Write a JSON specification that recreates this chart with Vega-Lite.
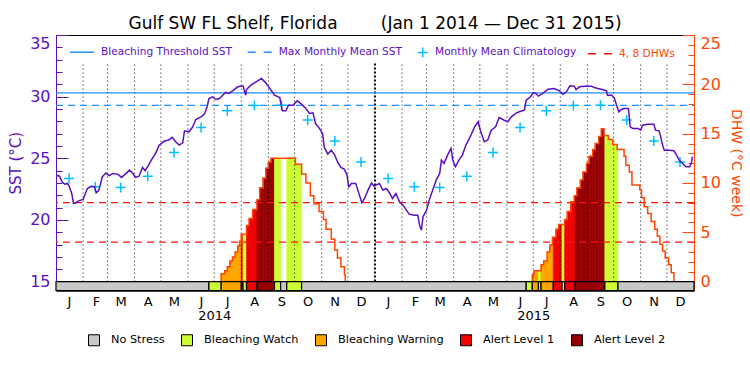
{
  "$schema": "https://vega.github.io/schema/vega-lite/v6.json",
  "width": 638,
  "height": 255.5,
  "autosize": {"type": "none"},
  "padding": {"left": 56, "top": 35, "right": 56, "bottom": 84.5},
  "background": "white",
  "title": {
    "text": "Gulf SW FL Shelf, Florida\u00a0\u00a0\u00a0\u00a0\u00a0\u00a0\u00a0\u00a0(Jan 1 2014 \u2014 Dec 31 2015)",
    "frame": "group", "anchor": "middle", "baseline": "alphabetic", "offset": -11,
    "fontSize": 17, "fontWeight": "normal", "color": "black", "font": "DejaVu Sans"
  },
  "datasets": {
    "sst": [
      {"date":"2014-01-01","sst":23.64},{"date":"2014-01-05","sst":23.55},{"date":"2014-01-08","sst":23.1},{"date":"2014-01-11","sst":22.9},
      {"date":"2014-01-14","sst":22.96},{"date":"2014-01-16","sst":22.75},{"date":"2014-01-19","sst":22.15},{"date":"2014-01-21","sst":21.34},
      {"date":"2014-01-24","sst":21.4},{"date":"2014-01-27","sst":21.55},{"date":"2014-02-01","sst":21.66},{"date":"2014-02-04","sst":22.2},
      {"date":"2014-02-06","sst":22.55},{"date":"2014-02-10","sst":22.74},{"date":"2014-02-14","sst":22.7},{"date":"2014-02-16","sst":22.2},
      {"date":"2014-02-19","sst":22.4},{"date":"2014-02-23","sst":23.5},{"date":"2014-02-27","sst":23.8},{"date":"2014-03-03","sst":23.6},
      {"date":"2014-03-07","sst":23.77},{"date":"2014-03-13","sst":23.7},{"date":"2014-03-17","sst":23.45},{"date":"2014-03-21","sst":23.7},
      {"date":"2014-03-26","sst":24.04},{"date":"2014-03-30","sst":23.77},{"date":"2014-04-02","sst":23.45},{"date":"2014-04-06","sst":23.55},
      {"date":"2014-04-10","sst":24.26},{"date":"2014-04-13","sst":23.99},{"date":"2014-04-17","sst":24.45},{"date":"2014-04-20","sst":24.85},
      {"date":"2014-04-25","sst":25.4},{"date":"2014-04-29","sst":26.07},{"date":"2014-05-05","sst":26.4},{"date":"2014-05-10","sst":26.48},
      {"date":"2014-05-14","sst":26.7},{"date":"2014-05-18","sst":26.34},{"date":"2014-05-22","sst":26.07},{"date":"2014-05-26","sst":26.26},
      {"date":"2014-05-28","sst":27.23},{"date":"2014-06-02","sst":27.15},{"date":"2014-06-06","sst":27.5},{"date":"2014-06-10","sst":28.15},
      {"date":"2014-06-16","sst":28.36},{"date":"2014-06-20","sst":28.6},{"date":"2014-06-23","sst":29.2},{"date":"2014-06-25","sst":29.85},
      {"date":"2014-06-29","sst":29.99},{"date":"2014-07-03","sst":29.77},{"date":"2014-07-07","sst":29.85},{"date":"2014-07-09","sst":29.99},
      {"date":"2014-07-14","sst":30.34},{"date":"2014-07-18","sst":30.26},{"date":"2014-07-22","sst":30.47},{"date":"2014-07-28","sst":30.8},
      {"date":"2014-08-03","sst":30.88},{"date":"2014-08-06","sst":30.12},{"date":"2014-08-07","sst":30.58},{"date":"2014-08-12","sst":30.93},
      {"date":"2014-08-18","sst":31.2},{"date":"2014-08-24","sst":31.47},{"date":"2014-08-28","sst":31.2},{"date":"2014-08-31","sst":30.93},
      {"date":"2014-09-04","sst":30.53},{"date":"2014-09-08","sst":30.12},{"date":"2014-09-14","sst":29.93},{"date":"2014-09-17","sst":28.85},
      {"date":"2014-09-21","sst":28.85},{"date":"2014-09-24","sst":29.31},{"date":"2014-09-29","sst":29.31},{"date":"2014-10-04","sst":29.66},
      {"date":"2014-10-09","sst":29.39},{"date":"2014-10-14","sst":29.04},{"date":"2014-10-18","sst":28.64},{"date":"2014-10-22","sst":28.69},
      {"date":"2014-10-25","sst":27.82},{"date":"2014-10-29","sst":27.47},{"date":"2014-11-02","sst":27.01},{"date":"2014-11-04","sst":25.88},
      {"date":"2014-11-08","sst":25.34},{"date":"2014-11-12","sst":25.66},{"date":"2014-11-16","sst":25.26},{"date":"2014-11-19","sst":24.72},
      {"date":"2014-11-23","sst":24.26},{"date":"2014-11-27","sst":24.1},{"date":"2014-11-30","sst":23.64},{"date":"2014-12-02","sst":22.69},
      {"date":"2014-12-05","sst":22.96},{"date":"2014-12-10","sst":22.96},{"date":"2014-12-13","sst":22.28},{"date":"2014-12-17","sst":21.39},
      {"date":"2014-12-20","sst":21.74},{"date":"2014-12-24","sst":22.42},{"date":"2014-12-28","sst":23.01},{"date":"2014-12-31","sst":22.74},
      {"date":"2015-01-02","sst":22.82},{"date":"2015-01-06","sst":22.96},{"date":"2015-01-10","sst":22.42},{"date":"2015-01-14","sst":22.55},
      {"date":"2015-01-18","sst":22.15},{"date":"2015-01-21","sst":21.74},{"date":"2015-01-25","sst":22.15},{"date":"2015-01-29","sst":21.47},
      {"date":"2015-02-02","sst":21.2},{"date":"2015-02-06","sst":20.8},{"date":"2015-02-09","sst":20.47},{"date":"2015-02-15","sst":20.39},
      {"date":"2015-02-19","sst":20.39},{"date":"2015-02-21","sst":19.58},{"date":"2015-02-23","sst":19.18},{"date":"2015-02-25","sst":20.26},
      {"date":"2015-03-01","sst":20.8},{"date":"2015-03-04","sst":21.61},{"date":"2015-03-08","sst":22.42},{"date":"2015-03-12","sst":23.23},
      {"date":"2015-03-16","sst":23.77},{"date":"2015-03-18","sst":24.85},{"date":"2015-03-21","sst":24.58},{"date":"2015-03-25","sst":25.26},
      {"date":"2015-03-29","sst":25.8},{"date":"2015-03-31","sst":24.85},{"date":"2015-04-03","sst":24.31},{"date":"2015-04-07","sst":24.85},
      {"date":"2015-04-11","sst":25.26},{"date":"2015-04-15","sst":26.07},{"date":"2015-04-19","sst":26.61},{"date":"2015-04-25","sst":27.55},
      {"date":"2015-04-29","sst":27.96},{"date":"2015-05-02","sst":27.15},{"date":"2015-05-06","sst":26.34},{"date":"2015-05-10","sst":26.48},
      {"date":"2015-05-14","sst":27.28},{"date":"2015-05-19","sst":27.55},{"date":"2015-05-23","sst":28.31},{"date":"2015-05-29","sst":28.09},
      {"date":"2015-06-02","sst":27.96},{"date":"2015-06-06","sst":28.36},{"date":"2015-06-11","sst":28.64},{"date":"2015-06-15","sst":28.77},
      {"date":"2015-06-21","sst":28.91},{"date":"2015-06-23","sst":29.72},{"date":"2015-06-28","sst":29.99},{"date":"2015-07-01","sst":30.31},
      {"date":"2015-07-04","sst":30.26},{"date":"2015-07-07","sst":30.04},{"date":"2015-07-12","sst":30.26},{"date":"2015-07-18","sst":30.61},
      {"date":"2015-07-25","sst":30.66},{"date":"2015-07-31","sst":30.47},{"date":"2015-08-04","sst":30.2},{"date":"2015-08-08","sst":30.39},
      {"date":"2015-08-12","sst":30.88},{"date":"2015-08-17","sst":30.85},{"date":"2015-08-19","sst":30.58},{"date":"2015-08-23","sst":30.8},
      {"date":"2015-08-29","sst":30.85},{"date":"2015-09-05","sst":30.85},{"date":"2015-09-09","sst":30.74},{"date":"2015-09-13","sst":30.66},
      {"date":"2015-09-18","sst":30.58},{"date":"2015-09-23","sst":30.47},{"date":"2015-09-24","sst":30.12},{"date":"2015-09-29","sst":30.12},
      {"date":"2015-10-02","sst":29.85},{"date":"2015-10-05","sst":29.18},{"date":"2015-10-07","sst":28.77},{"date":"2015-10-10","sst":28.96},
      {"date":"2015-10-13","sst":29.04},{"date":"2015-10-18","sst":29.04},{"date":"2015-10-20","sst":27.55},{"date":"2015-10-23","sst":27.42},
      {"date":"2015-10-29","sst":27.42},{"date":"2015-11-01","sst":27.28},{"date":"2015-11-03","sst":27.69},{"date":"2015-11-09","sst":27.77},
      {"date":"2015-11-16","sst":27.77},{"date":"2015-11-18","sst":27.28},{"date":"2015-11-22","sst":27.23},{"date":"2015-11-24","sst":26.74},
      {"date":"2015-11-26","sst":26.07},{"date":"2015-11-28","sst":25.66},{"date":"2015-12-04","sst":25.66},{"date":"2015-12-09","sst":25.61},
      {"date":"2015-12-12","sst":25.26},{"date":"2015-12-15","sst":24.85},{"date":"2015-12-19","sst":24.58},{"date":"2015-12-23","sst":24.31},
      {"date":"2015-12-27","sst":24.31},{"date":"2015-12-29","sst":24.64},{"date":"2015-12-30","sst":25.07},{"date":"2015-12-31","sst":25.07}
    ],
    "clim": [
      {"date":"2014-01-16","sst":23.36},{"date":"2014-02-15","sst":22.69},{"date":"2014-03-16","sst":22.64},{"date":"2014-04-16","sst":23.55},
      {"date":"2014-05-16","sst":25.47},{"date":"2014-06-16","sst":27.5},{"date":"2014-07-16","sst":28.85},{"date":"2014-08-16","sst":29.28},
      {"date":"2014-09-16","sst":29.3},{"date":"2014-10-16","sst":28.1},{"date":"2014-11-16","sst":26.4},{"date":"2014-12-16","sst":24.7},
      {"date":"2015-01-16","sst":23.36},{"date":"2015-02-15","sst":22.69},{"date":"2015-03-16","sst":22.64},{"date":"2015-04-16","sst":23.55},
      {"date":"2015-05-16","sst":25.47},{"date":"2015-06-16","sst":27.5},{"date":"2015-07-16","sst":28.85},{"date":"2015-08-16","sst":29.28},
      {"date":"2015-09-16","sst":29.3},{"date":"2015-10-16","sst":28.1},{"date":"2015-11-16","sst":26.4},{"date":"2015-12-16","sst":24.7}
    ],
    "levels": [
      {"series":"Bleaching Threshold SST","value":30.3},
      {"series":"Max Monthly Mean SST","value":29.3}
    ],
    "dhwlevels": [
      {"series":"4, 8 DHWs","value":4},
      {"series":"4, 8 DHWs","value":8}
    ],
    "dhw": [
      {"date":"2014-07-08","dhw":0,"event":"2014"},{"date":"2014-07-09","dhw":0.8,"event":"2014"},{"date":"2014-07-13","dhw":1.1,"event":"2014"},
      {"date":"2014-07-16","dhw":1.5,"event":"2014"},{"date":"2014-07-19","dhw":2.1,"event":"2014"},{"date":"2014-07-22","dhw":2.5,"event":"2014"},
      {"date":"2014-07-25","dhw":3.0,"event":"2014"},{"date":"2014-07-28","dhw":3.6,"event":"2014"},{"date":"2014-07-30","dhw":4.1,"event":"2014"},
      {"date":"2014-08-01","dhw":4.8,"event":"2014"},{"date":"2014-08-07","dhw":5.7,"event":"2014"},{"date":"2014-08-10","dhw":6.4,"event":"2014"},
      {"date":"2014-08-14","dhw":7.3,"event":"2014"},{"date":"2014-08-19","dhw":8.3,"event":"2014"},{"date":"2014-08-22","dhw":9.5,"event":"2014"},
      {"date":"2014-08-26","dhw":10.5,"event":"2014"},{"date":"2014-08-29","dhw":11.5,"event":"2014"},{"date":"2014-09-01","dhw":12.1,"event":"2014"},
      {"date":"2014-09-04","dhw":12.5,"event":"2014"},{"date":"2014-10-02","dhw":11.9,"event":"2014"},{"date":"2014-10-09","dhw":10.9,"event":"2014"},
      {"date":"2014-10-14","dhw":10.0,"event":"2014"},{"date":"2014-10-19","dhw":8.7,"event":"2014"},{"date":"2014-10-23","dhw":7.9,"event":"2014"},
      {"date":"2014-10-29","dhw":7.1,"event":"2014"},{"date":"2014-11-03","dhw":6.3,"event":"2014"},{"date":"2014-11-06","dhw":5.3,"event":"2014"},
      {"date":"2014-11-12","dhw":4.3,"event":"2014"},{"date":"2014-11-16","dhw":3.2,"event":"2014"},{"date":"2014-11-19","dhw":2.4,"event":"2014"},
      {"date":"2014-11-23","dhw":1.5,"event":"2014"},{"date":"2014-11-27","dhw":0.7,"event":"2014"},{"date":"2014-11-28","dhw":0,"event":"2014"},
      {"date":"2015-06-29","dhw":0,"event":"2015"},{"date":"2015-06-30","dhw":0.7,"event":"2015"},{"date":"2015-07-02","dhw":1.1,"event":"2015"},
      {"date":"2015-07-10","dhw":1.7,"event":"2015"},{"date":"2015-07-13","dhw":2.1,"event":"2015"},{"date":"2015-07-17","dhw":3.0,"event":"2015"},
      {"date":"2015-07-20","dhw":3.7,"event":"2015"},{"date":"2015-07-23","dhw":4.5,"event":"2015"},{"date":"2015-07-27","dhw":5.3,"event":"2015"},
      {"date":"2015-07-30","dhw":5.8,"event":"2015"},{"date":"2015-08-06","dhw":6.3,"event":"2015"},{"date":"2015-08-09","dhw":7.1,"event":"2015"},
      {"date":"2015-08-13","dhw":8.1,"event":"2015"},{"date":"2015-08-17","dhw":8.7,"event":"2015"},{"date":"2015-08-20","dhw":9.5,"event":"2015"},
      {"date":"2015-08-24","dhw":10.3,"event":"2015"},{"date":"2015-08-27","dhw":11.1,"event":"2015"},{"date":"2015-08-31","dhw":12.0,"event":"2015"},
      {"date":"2015-09-03","dhw":12.7,"event":"2015"},{"date":"2015-09-07","dhw":13.4,"event":"2015"},{"date":"2015-09-10","dhw":14.0,"event":"2015"},
      {"date":"2015-09-14","dhw":14.7,"event":"2015"},{"date":"2015-09-17","dhw":15.5,"event":"2015"},{"date":"2015-09-20","dhw":14.8,"event":"2015"},
      {"date":"2015-09-25","dhw":14.4,"event":"2015"},{"date":"2015-09-30","dhw":13.9,"event":"2015"},{"date":"2015-10-05","dhw":13.4,"event":"2015"},
      {"date":"2015-10-13","dhw":12.7,"event":"2015"},{"date":"2015-10-15","dhw":11.8,"event":"2015"},{"date":"2015-10-19","dhw":11.1,"event":"2015"},
      {"date":"2015-10-22","dhw":9.8,"event":"2015"},{"date":"2015-10-31","dhw":9.3,"event":"2015"},{"date":"2015-11-02","dhw":8.5,"event":"2015"},
      {"date":"2015-11-05","dhw":7.6,"event":"2015"},{"date":"2015-11-09","dhw":6.9,"event":"2015"},{"date":"2015-11-13","dhw":6.1,"event":"2015"},
      {"date":"2015-11-17","dhw":5.3,"event":"2015"},{"date":"2015-11-20","dhw":4.6,"event":"2015"},{"date":"2015-11-23","dhw":3.8,"event":"2015"},
      {"date":"2015-11-26","dhw":3.1,"event":"2015"},{"date":"2015-11-29","dhw":2.4,"event":"2015"},{"date":"2015-12-03","dhw":1.7,"event":"2015"},
      {"date":"2015-12-06","dhw":0.9,"event":"2015"},{"date":"2015-12-09","dhw":0,"event":"2015"}
    ],
    "fills": [
      {"start":"2014-07-09","end":"2014-07-13","top":0.8,"status":"Bleaching Warning"},
      {"start":"2014-07-13","end":"2014-07-16","top":1.1,"status":"Bleaching Warning"},
      {"start":"2014-07-16","end":"2014-07-19","top":1.5,"status":"Bleaching Warning"},
      {"start":"2014-07-19","end":"2014-07-22","top":2.1,"status":"Bleaching Warning"},
      {"start":"2014-07-22","end":"2014-07-25","top":2.5,"status":"Bleaching Warning"},
      {"start":"2014-07-25","end":"2014-07-28","top":3.0,"status":"Bleaching Warning"},
      {"start":"2014-07-28","end":"2014-07-30","top":3.6,"status":"Bleaching Warning"},
      {"start":"2014-07-30","end":"2014-08-01","top":4.1,"status":"Bleaching Warning"},
      {"start":"2014-08-01","end":"2014-08-03","top":4.8,"status":"Alert Level 1"},
      {"start":"2014-08-03","end":"2014-08-07","top":4.8,"status":"Bleaching Watch"},
      {"start":"2014-08-07","end":"2014-08-10","top":5.7,"status":"Alert Level 1"},
      {"start":"2014-08-10","end":"2014-08-14","top":6.4,"status":"Alert Level 1"},
      {"start":"2014-08-14","end":"2014-08-19","top":7.3,"status":"Alert Level 1"},
      {"start":"2014-08-19","end":"2014-08-22","top":8.3,"status":"Alert Level 2"},
      {"start":"2014-08-22","end":"2014-08-26","top":9.5,"status":"Alert Level 2"},
      {"start":"2014-08-26","end":"2014-08-29","top":10.5,"status":"Alert Level 2"},
      {"start":"2014-08-29","end":"2014-09-01","top":11.5,"status":"Alert Level 2"},
      {"start":"2014-09-01","end":"2014-09-04","top":12.1,"status":"Alert Level 2"},
      {"start":"2014-09-04","end":"2014-09-08","top":12.5,"status":"Alert Level 2"},
      {"start":"2014-09-08","end":"2014-09-15","top":12.5,"status":"Bleaching Watch"},
      {"start":"2014-09-22","end":"2014-10-02","top":12.5,"status":"Bleaching Watch"},
      {"start":"2014-10-02","end":"2014-10-09","top":11.9,"status":"Bleaching Watch"},
      {"start":"2015-06-30","end":"2015-07-02","top":0.7,"status":"Bleaching Warning"},
      {"start":"2015-07-02","end":"2015-07-07","top":1.1,"status":"Bleaching Warning"},
      {"start":"2015-07-07","end":"2015-07-10","top":1.1,"status":"Bleaching Watch"},
      {"start":"2015-07-10","end":"2015-07-13","top":1.7,"status":"Bleaching Warning"},
      {"start":"2015-07-13","end":"2015-07-17","top":2.1,"status":"Bleaching Warning"},
      {"start":"2015-07-17","end":"2015-07-20","top":3.0,"status":"Bleaching Warning"},
      {"start":"2015-07-20","end":"2015-07-23","top":3.7,"status":"Bleaching Warning"},
      {"start":"2015-07-23","end":"2015-07-24","top":4.5,"status":"Bleaching Warning"},
      {"start":"2015-07-24","end":"2015-07-27","top":4.5,"status":"Alert Level 1"},
      {"start":"2015-07-27","end":"2015-07-30","top":5.3,"status":"Alert Level 1"},
      {"start":"2015-07-30","end":"2015-08-03","top":5.8,"status":"Alert Level 1"},
      {"start":"2015-08-03","end":"2015-08-06","top":5.8,"status":"Bleaching Watch"},
      {"start":"2015-08-06","end":"2015-08-09","top":6.3,"status":"Alert Level 1"},
      {"start":"2015-08-09","end":"2015-08-13","top":7.1,"status":"Alert Level 1"},
      {"start":"2015-08-13","end":"2015-08-17","top":8.1,"status":"Alert Level 1"},
      {"start":"2015-08-17","end":"2015-08-18","top":8.7,"status":"Alert Level 1"},
      {"start":"2015-08-18","end":"2015-08-20","top":8.7,"status":"Alert Level 2"},
      {"start":"2015-08-20","end":"2015-08-24","top":9.5,"status":"Alert Level 2"},
      {"start":"2015-08-24","end":"2015-08-27","top":10.3,"status":"Alert Level 2"},
      {"start":"2015-08-27","end":"2015-08-31","top":11.1,"status":"Alert Level 2"},
      {"start":"2015-08-31","end":"2015-09-03","top":12.0,"status":"Alert Level 2"},
      {"start":"2015-09-03","end":"2015-09-07","top":12.7,"status":"Alert Level 2"},
      {"start":"2015-09-07","end":"2015-09-10","top":13.4,"status":"Alert Level 2"},
      {"start":"2015-09-10","end":"2015-09-14","top":14.0,"status":"Alert Level 2"},
      {"start":"2015-09-14","end":"2015-09-17","top":14.7,"status":"Alert Level 2"},
      {"start":"2015-09-17","end":"2015-09-20","top":15.5,"status":"Alert Level 2"},
      {"start":"2015-09-20","end":"2015-09-21","top":14.8,"status":"Alert Level 2"},
      {"start":"2015-09-21","end":"2015-09-25","top":14.8,"status":"Bleaching Watch"},
      {"start":"2015-09-25","end":"2015-09-30","top":14.4,"status":"Bleaching Watch"},
      {"start":"2015-09-30","end":"2015-10-05","top":13.9,"status":"Bleaching Watch"},
      {"start":"2015-10-05","end":"2015-10-06","top":13.4,"status":"Bleaching Watch"}
    ],
    "bar": [
      {"start":"2014-01-01","end":"2014-06-25","status":"No Stress"},
      {"start":"2014-06-25","end":"2014-07-09","status":"Bleaching Watch"},
      {"start":"2014-07-09","end":"2014-08-01","status":"Bleaching Warning"},
      {"start":"2014-08-01","end":"2014-08-03","status":"Alert Level 1"},
      {"start":"2014-08-03","end":"2014-08-07","status":"Bleaching Watch"},
      {"start":"2014-08-07","end":"2014-08-19","status":"Alert Level 1"},
      {"start":"2014-08-19","end":"2014-09-08","status":"Alert Level 2"},
      {"start":"2014-09-08","end":"2014-09-15","status":"Bleaching Watch"},
      {"start":"2014-09-15","end":"2014-09-22","status":"No Stress"},
      {"start":"2014-09-22","end":"2014-10-09","status":"Bleaching Watch"},
      {"start":"2014-10-09","end":"2015-06-23","status":"No Stress"},
      {"start":"2015-06-23","end":"2015-06-30","status":"Bleaching Watch"},
      {"start":"2015-06-30","end":"2015-07-07","status":"Bleaching Warning"},
      {"start":"2015-07-07","end":"2015-07-10","status":"Bleaching Watch"},
      {"start":"2015-07-10","end":"2015-07-24","status":"Bleaching Warning"},
      {"start":"2015-07-24","end":"2015-08-03","status":"Alert Level 1"},
      {"start":"2015-08-03","end":"2015-08-06","status":"Bleaching Watch"},
      {"start":"2015-08-06","end":"2015-08-18","status":"Alert Level 1"},
      {"start":"2015-08-18","end":"2015-09-21","status":"Alert Level 2"},
      {"start":"2015-09-21","end":"2015-10-06","status":"Bleaching Watch"},
      {"start":"2015-10-06","end":"2016-01-01","status":"No Stress"}
    ],
    "months": [
      {"date":"2014-02-01"},{"date":"2014-03-01"},{"date":"2014-04-01"},{"date":"2014-05-01"},{"date":"2014-06-01"},{"date":"2014-07-01"},
      {"date":"2014-08-01"},{"date":"2014-09-01"},{"date":"2014-10-01"},{"date":"2014-11-01"},{"date":"2014-12-01"},{"date":"2015-01-01"},
      {"date":"2015-02-01"},{"date":"2015-03-01"},{"date":"2015-04-01"},{"date":"2015-05-01"},{"date":"2015-06-01"},{"date":"2015-07-01"},
      {"date":"2015-08-01"},{"date":"2015-09-01"},{"date":"2015-10-01"},{"date":"2015-11-01"},{"date":"2015-12-01"}
    ]
  },
  "layer": [
    {
      "layer": [
        {
          "data": {"name": "fills"},
          "mark": {"type": "rect", "strokeWidth": 0.7},
          "encoding": {
            "x": {"field": "start", "type": "temporal",
              "scale": {"type": "utc", "domain": [{"year":2014,"month":1,"date":1,"utc":true},{"year":2016,"month":1,"date":1,"utc":true}], "nice": false},
              "axis": {"orient": "bottom", "values": [{"year":2014,"month":7,"date":1,"utc":true},{"year":2015,"month":7,"date":1,"utc":true}],
                "format": "%Y", "ticks": false, "domain": false, "grid": false, "labelPadding": 19,
                "labelFontSize": 13, "labelColor": "black", "title": null, "labelFlush": false}},
            "x2": {"field": "end"},
            "y": {"field": "top", "type": "quantitative",
              "scale": {"domain": [-0.9, 25], "nice": false, "zero": false},
              "axis": {"orient": "right", "values": [0, 5, 10, 15, 20, 25],
                "tickSize": -12, "tickColor": "#FF4500", "domainColor": "#FF4500", "labelColor": "#FF4500", "labelFontSize": 16, "labelPadding": 18,
                "title": "DHW (\u00b0C week)", "titleColor": "#FF4500", "titleFontSize": 14, "titleFontWeight": "normal", "titlePadding": 8,
                "grid": false, "labelFlush": true, "labelBound": false}},
            "y2": {"datum": 0},
            "fill": {"field": "status", "type": "nominal",
              "scale": {"domain": ["No Stress", "Bleaching Watch", "Bleaching Warning", "Alert Level 1", "Alert Level 2"],
                        "range": ["#C8C8C8", "#CCFF33", "#FFA500", "#F00000", "#960000"]},
              "legend": {"orient": "none", "legendX": 32, "legendY": 299, "direction": "horizontal", "title": null,
                "symbolType": "square", "symbolSize": 121, "symbolStrokeColor": "black", "symbolStrokeWidth": 1, "symbolOpacity": 1,
                "labelFontSize": 11.3, "labelOffset": 11, "columnPadding": 14, "labelColor": "black", "labelLimit": 300,
                "encode": {"symbols": {"update": {"stroke": {"value": "black"}, "strokeWidth": {"value": 1}}}}}},
            "stroke": {"field": "status", "type": "nominal",
              "scale": {"domain": ["No Stress", "Bleaching Watch", "Bleaching Warning", "Alert Level 1", "Alert Level 2"],
                        "range": ["#C8C8C8", "#CCFF33", "#FFA500", "#F00000", "#960000"]},
              "legend": null}
          }
        },
        {
          "data": {"name": "months"},
          "mark": {"type": "rule", "color": "black"},
          "encoding": {
            "x": {"field": "date", "type": "temporal"},
            "y": {"datum": 0},
            "y2": {"datum": 22.2},
            "strokeWidth": {"condition": {"test": "utcmonth(datum.date) === 0", "value": 2}, "value": 1},
            "strokeDash": {"condition": {"test": "utcmonth(datum.date) === 0", "value": [2, 2]}, "value": [1, 3]}
          }
        },
        {
          "data": {"name": "dhwlevels"},
          "mark": {"type": "rule", "strokeDash": [7, 5], "strokeWidth": 1.3},
          "encoding": {
            "y": {"field": "value", "type": "quantitative"},
            "color": {"field": "series", "type": "nominal",
              "scale": {"domain": ["Monthly Mean Climatology", "4, 8 DHWs"], "range": ["#00BFFF", "#FF1010"]},
              "legend": {"orient": "none", "legendX": 347, "legendY": 4, "direction": "horizontal", "title": null,
                "symbolType": "stroke", "symbolSize": 576, "symbolStrokeWidth": 1.5,
                "labelFontSize": 10.6, "labelOffset": 6, "columnPadding": 8, "labelLimit": 400,
                "encode": {
                  "symbols": {"update": {
                    "shape": {"signal": "datum.value === 'Monthly Mean Climatology' ? 'M0.14,0H0.98M0.56,-0.42V0.42' : 'stroke'"},
                    "strokeDash": {"signal": "datum.value === '4, 8 DHWs' ? [8,8] : [30,0]"},
                    "fill": {"value": "transparent"},
                    "opacity": {"value": 1}}},
                  "labels": {"update": {"fill": {"signal": "datum.value === '4, 8 DHWs' ? '#FF4500' : '#5A10C0'"}}}
                }}}
          }
        },
        {
          "data": {"name": "dhw"},
          "mark": {"type": "line", "interpolate": "step-after", "color": "#FF4500", "strokeWidth": 1.5},
          "encoding": {
            "x": {"field": "date", "type": "temporal"},
            "y": {"field": "dhw", "type": "quantitative"},
            "detail": {"field": "event", "type": "nominal"}
          }
        },
        {
          "data": {"name": "bar"},
          "mark": {"type": "rect", "stroke": "black", "strokeWidth": 1.2},
          "encoding": {
            "x": {"field": "start", "type": "temporal"},
            "x2": {"field": "end"},
            "y": {"datum": -0.9, "type": "quantitative"},
            "y2": {"datum": 0},
            "fill": {"field": "status", "type": "nominal"}
          }
        }
      ]
    },
    {
      "layer": [
        {
          "data": {"name": "levels"},
          "mark": {"type": "rule", "strokeWidth": 1.3},
          "encoding": {
            "x": {"datum": {"year":2014,"month":1,"date":1,"utc":true}, "type": "temporal",
              "axis": {"orient": "bottom", "values": [
                {"year":2014,"month":1,"date":1,"utc":true},{"year":2014,"month":3,"date":1,"utc":true},
                {"year":2014,"month":5,"date":1,"utc":true},{"year":2014,"month":7,"date":1,"utc":true},
                {"year":2014,"month":9,"date":1,"utc":true},{"year":2014,"month":11,"date":1,"utc":true},
                {"year":2015,"month":1,"date":1,"utc":true},{"year":2015,"month":3,"date":1,"utc":true},
                {"year":2015,"month":5,"date":1,"utc":true},{"year":2015,"month":7,"date":1,"utc":true},
                {"year":2015,"month":9,"date":1,"utc":true},{"year":2015,"month":11,"date":1,"utc":true}],
                "format": "%m",
                "labelExpr": "substring(utcFormat(datum.value, '%b'), 0, 1)", "labelOffset": 13, "ticks": false, "grid": false,
                "domain": true, "domainColor": "black", "labelColor": "black", "labelFontSize": 13, "labelPadding": 5,
                "title": null, "labelFlush": false, "labelBound": false}},
            "x2": {"datum": {"year":2016,"month":1,"date":1,"utc":true}},
            "y": {"field": "value", "type": "quantitative",
              "scale": {"domain": [14.28, 35], "nice": false, "zero": false},
              "axis": {"orient": "left", "values": [15, 20, 25, 30, 35],
                "tickSize": -12, "tickColor": "#5A10C0", "domainColor": "#5A10C0", "labelColor": "#5A10C0", "labelFontSize": 16, "labelPadding": 18,
                "title": "SST (\u00b0C)", "titleColor": "#5A10C0", "titleFontSize": 15, "titleFontWeight": "normal", "titlePadding": 6,
                "grid": false, "labelFlush": true, "labelBound": false}},
            "stroke": {"field": "series", "type": "nominal",
              "scale": {"domain": ["Bleaching Threshold SST", "Max Monthly Mean SST"], "range": ["#1E90FF", "#1E90FF"]},
              "legend": {"orient": "none", "legendX": 13, "legendY": 4, "direction": "horizontal", "title": null,
                "symbolType": "stroke", "symbolSize": 576, "symbolStrokeWidth": 1.5,
                "labelFontSize": 10.6, "labelOffset": 6, "columnPadding": 11.7, "labelLimit": 400, "labelColor": "#5A10C0",
                "encode": {
                  "symbols": {"update": {
                    "strokeDash": {"signal": "datum.value === 'Max Monthly Mean SST' ? [8,8] : [30,0]"},
                    "fill": {"value": "transparent"},
                    "opacity": {"value": 1}}}
                }}},
            "strokeDash": {"condition": {"test": "datum.series === 'Max Monthly Mean SST'", "value": [7, 5]}, "value": [1, 0]}
          }
        },
        {
          "data": {"name": "clim"},
          "mark": {"type": "point", "shape": "M-1,0H1M0,-1V1", "size": 100, "strokeWidth": 1.5, "filled": false, "opacity": 1},
          "encoding": {
            "x": {"field": "date", "type": "temporal"},
            "y": {"field": "sst", "type": "quantitative"},
            "color": {"datum": "Monthly Mean Climatology"}
          }
        },
        {
          "data": {"name": "sst"},
          "mark": {"type": "line", "color": "#5A10C0", "strokeWidth": 1.5},
          "encoding": {
            "x": {"field": "date", "type": "temporal"},
            "y": {"field": "sst", "type": "quantitative"}
          }
        }
      ]
    },
    {
      "data": {"name": "levels"},
      "mark": {"type": "rule", "opacity": 0},
      "encoding": {
        "x": {"datum": {"year":2014,"month":1,"date":1,"utc":true}, "type": "temporal",
          "axis": {"orient": "bottom", "values": [
            {"year":2014,"month":2,"date":1,"utc":true},{"year":2014,"month":4,"date":1,"utc":true},
            {"year":2014,"month":6,"date":1,"utc":true},{"year":2014,"month":8,"date":1,"utc":true},
            {"year":2014,"month":10,"date":1,"utc":true},{"year":2014,"month":12,"date":1,"utc":true},
            {"year":2015,"month":2,"date":1,"utc":true},{"year":2015,"month":4,"date":1,"utc":true},
            {"year":2015,"month":6,"date":1,"utc":true},{"year":2015,"month":8,"date":1,"utc":true},
            {"year":2015,"month":10,"date":1,"utc":true},{"year":2015,"month":12,"date":1,"utc":true}],
            "format": "%m",
            "labelExpr": "substring(utcFormat(datum.value, '%b'), 0, 1)", "labelOffset": 13, "ticks": false, "grid": false,
            "domain": false, "labelColor": "black", "labelFontSize": 13, "labelPadding": 5,
            "title": null, "labelFlush": false, "labelBound": false}},
        "y": {"field": "value", "type": "quantitative",
          "scale": {"domain": [14.28, 35], "nice": false, "zero": false},
          "axis": {"orient": "left", "values": [16,17,18,19,21,22,23,24,26,27,28,29,31,32,33,34],
            "labels": false, "domain": false, "tickSize": -6, "tickColor": "#5A10C0", "title": null, "grid": false}}
      }
    },
    {
      "data": {"name": "dhwlevels"},
      "mark": {"type": "rule", "opacity": 0},
      "encoding": {
        "y": {"field": "value", "type": "quantitative",
          "scale": {"domain": [-0.9, 25], "nice": false, "zero": false},
          "axis": {"orient": "right", "values": [1,2,3,4,6,7,8,9,11,12,13,14,16,17,18,19,21,22,23,24],
            "labels": false, "domain": false, "tickSize": -6, "tickColor": "#FF4500", "title": null, "grid": false}}
      }
    }
  ],
  "resolve": {"scale": {"y": "independent", "stroke": "independent"}, "axis": {"y": "independent", "x": "independent"}},
  "config": {
    "font": "DejaVu Sans",
    "view": {"stroke": "black", "strokeWidth": 1},
    "axis": {"labelFont": "DejaVu Sans", "titleFont": "DejaVu Sans", "grid": false},
    "legend": {"labelFont": "DejaVu Sans"}
  }
}
